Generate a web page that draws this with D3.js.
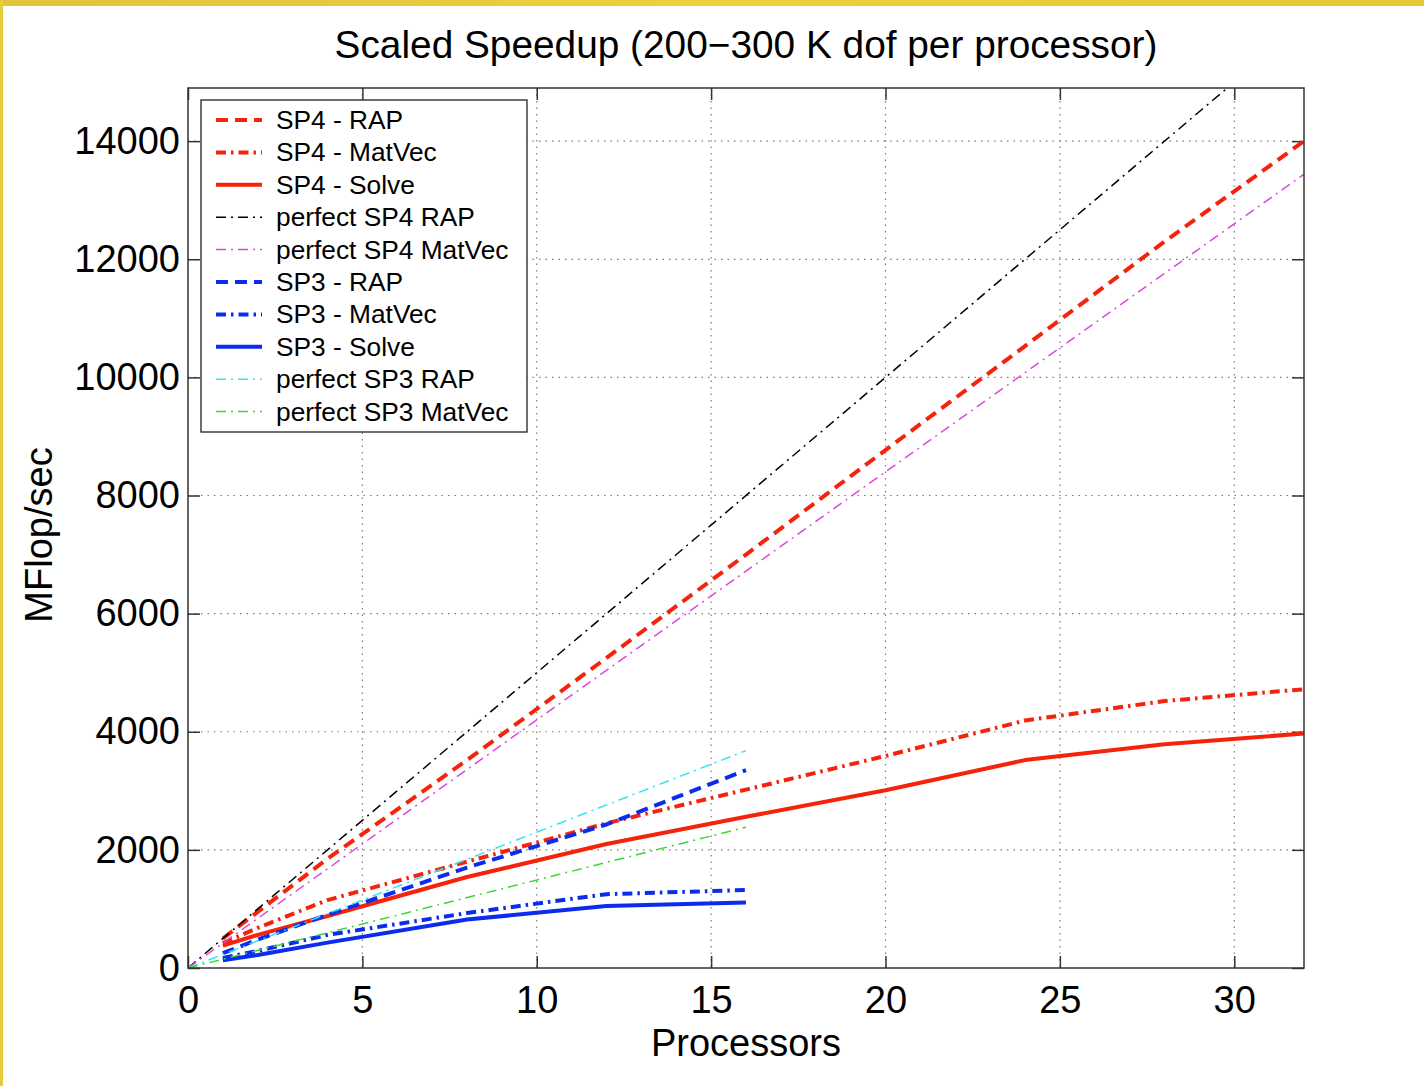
<!DOCTYPE html>
<html>
<head>
<meta charset="utf-8">
<script src="https://cdn.jsdelivr.net/npm/d3@7/dist/d3.min.js"></script>
<style>
  html, body { margin: 0; padding: 0; background: #ffffff; }
  svg { display: block; }
  text { font-family: "Liberation Sans", Arial, Helvetica, sans-serif; fill: #000; }
</style>
</head>
<body>
<svg id="chart" width="1424" height="1086"></svg>
<script>
// Processor counts
const procsSP4 = [1, 2, 4, 8, 12, 16, 20, 24, 28, 32];
const procsSP3 = [1, 2, 4, 8, 12, 16];

// Measured MFlop/sec, SP4
const sp4RAP    = [500, 950, 1850, 3520, 5250, 7000, 8770, 10530, 12300, 14000];
const sp4MatVec = [420, 680, 1150, 1800, 2450, 3020, 3590, 4190, 4520, 4720];
const sp4Solve  = [380, 560, 880, 1540, 2100, 2560, 3010, 3520, 3790, 3970];

// Measured MFlop/sec, SP3
const sp3RAP    = [250, 480, 900, 1700, 2430, 3350];
const sp3MatVec = [170, 290, 560, 930, 1250, 1320];
const sp3Solve  = [130, 220, 430, 820, 1050, 1110];

// Ideal (linear) scaling references
const perfectSP4Procs  = [0, 32];
const perfectSP4RAP    = [0, 16000];
const perfectSP4MatVec = [0, 13440];
const perfectSP3Procs  = [0, 16];
const perfectSP3RAP    = [0, 3680];
const perfectSP3MatVec = [0, 2384];

const xTicks = [0, 5, 10, 15, 20, 25, 30];
const yTicks = [0, 2000, 4000, 6000, 8000, 10000, 12000, 14000];

const RED = "#f5230c", BLUE = "#0b2cee", BLACK = "#000000",
      MAGENTA = "#dc48dc", CYAN = "#30e4ee", GREEN = "#38d838";

const DASH = "12,7", DASHDOT = "10,5,2.5,5", THIN_DASHDOT = "10,5,2,5";

const series = [
  { name: "SP4 - RAP",          x: procsSP4, y: sp4RAP,    color: RED,     width: 4,   dash: DASH },
  { name: "SP4 - MatVec",       x: procsSP4, y: sp4MatVec, color: RED,     width: 4,   dash: DASHDOT },
  { name: "SP4 - Solve",        x: procsSP4, y: sp4Solve,  color: RED,     width: 4,   dash: null },
  { name: "perfect SP4 RAP",    x: perfectSP4Procs, y: perfectSP4RAP,    color: BLACK,   width: 1.5, dash: THIN_DASHDOT },
  { name: "perfect SP4 MatVec", x: perfectSP4Procs, y: perfectSP4MatVec, color: MAGENTA, width: 1.5, dash: THIN_DASHDOT },
  { name: "SP3 - RAP",          x: procsSP3, y: sp3RAP,    color: BLUE,    width: 4,   dash: DASH },
  { name: "SP3 - MatVec",       x: procsSP3, y: sp3MatVec, color: BLUE,    width: 4,   dash: DASHDOT },
  { name: "SP3 - Solve",        x: procsSP3, y: sp3Solve,  color: BLUE,    width: 4,   dash: null },
  { name: "perfect SP3 RAP",    x: perfectSP3Procs, y: perfectSP3RAP,    color: CYAN,  width: 1.5, dash: THIN_DASHDOT },
  { name: "perfect SP3 MatVec", x: perfectSP3Procs, y: perfectSP3MatVec, color: GREEN, width: 1.5, dash: THIN_DASHDOT }
];

const svg = d3.select("#chart");

// Yellow slide frame along the top and left edges
const grad = svg.append("defs").append("linearGradient")
  .attr("id", "frameGrad").attr("x1", 0).attr("x2", 1).attr("y1", 0).attr("y2", 0);
grad.append("stop").attr("offset", "0%").attr("stop-color", "#e2c43a");
grad.append("stop").attr("offset", "50%").attr("stop-color", "#ecd03c");
grad.append("stop").attr("offset", "100%").attr("stop-color", "#e6c836");
svg.append("rect").attr("x", 0).attr("y", 0).attr("width", 1424).attr("height", 6).attr("fill", "url(#frameGrad)");
svg.append("rect").attr("x", 0).attr("y", 0).attr("width", 3).attr("height", 1086).attr("fill", "#e6cc3a");

const L = 188, R = 1304, T = 88, B = 968;
const x = d3.scaleLinear().domain([0, 32]).range([L, R]);
const y = d3.scaleLinear().domain([0, 14900]).range([B, T]);

svg.append("defs").append("clipPath").attr("id", "plotClip")
  .append("rect").attr("x", L).attr("y", T).attr("width", R - L).attr("height", B - T);

// Dotted grid
const grid = svg.append("g").attr("stroke", "#7a7a7a").attr("stroke-width", 1.2)
  .attr("stroke-dasharray", "1.5,5");
grid.selectAll(".gx").data(xTicks.filter(d => d > 0)).join("line")
  .attr("x1", d => x(d)).attr("x2", d => x(d)).attr("y1", T).attr("y2", B);
grid.selectAll(".gy").data(yTicks.filter(d => d > 0)).join("line")
  .attr("y1", d => y(d)).attr("y2", d => y(d)).attr("x1", L).attr("x2", R);

// Axes with inward ticks
const styleAxis = g => {
  g.select(".domain").remove();
  g.selectAll(".tick line").attr("stroke", "#333").attr("stroke-width", 1.5);
  g.selectAll(".tick text").attr("font-size", 38)
    .attr("font-family", '"Liberation Sans", Arial, sans-serif').attr("fill", "#000");
};
svg.append("g").attr("transform", `translate(0,${B})`)
  .call(d3.axisBottom(x).tickValues(xTicks).tickSize(-12).tickPadding(18).tickFormat(d3.format("d")))
  .call(styleAxis);
svg.append("g").attr("transform", `translate(0,${T})`)
  .call(d3.axisTop(x).tickValues(xTicks).tickSize(-12).tickFormat(""))
  .call(styleAxis);
svg.append("g").attr("transform", `translate(${L},0)`)
  .call(d3.axisLeft(y).tickValues(yTicks).tickSize(-12).tickPadding(8).tickFormat(d3.format("d")))
  .call(styleAxis);
svg.append("g").attr("transform", `translate(${R},0)`)
  .call(d3.axisRight(y).tickValues(yTicks).tickSize(-12).tickFormat(""))
  .call(styleAxis);

// Data lines
const line = d3.line().x(d => x(d[0])).y(d => y(d[1]));
const plot = svg.append("g").attr("clip-path", "url(#plotClip)");
series.forEach(s => {
  plot.append("path")
    .datum(s.x.map((p, i) => [p, s.y[i]]))
    .attr("fill", "none")
    .attr("stroke", s.color)
    .attr("stroke-width", s.width)
    .attr("stroke-dasharray", s.dash)
    .attr("stroke-linecap", "butt")
    .attr("stroke-linejoin", "round")
    .attr("d", line);
});

// Plot frame
svg.append("rect").attr("x", L).attr("y", T).attr("width", R - L).attr("height", B - T)
  .attr("fill", "none").attr("stroke", "#333").attr("stroke-width", 1.5);

// Title and axis labels
svg.append("text").attr("x", (L + R) / 2).attr("y", 58).attr("text-anchor", "middle")
  .attr("font-size", 38.8).text("Scaled Speedup (200\u2212300 K dof per processor)");
svg.append("text").attr("x", (L + R) / 2).attr("y", 1056).attr("text-anchor", "middle")
  .attr("font-size", 38).text("Processors");
svg.append("text").attr("transform", `translate(52,${(T + B) / 2 + 7}) rotate(-90)`)
  .attr("text-anchor", "middle").attr("font-size", 38).text("MFlop/sec");

// Legend
const lg = svg.append("g");
lg.append("rect").attr("x", 201).attr("y", 100).attr("width", 326).attr("height", 332)
  .attr("fill", "#fff").attr("stroke", "#222").attr("stroke-width", 1.3);
series.forEach((s, i) => {
  const cy = 120 + i * 32.4;
  lg.append("line").attr("x1", 216).attr("x2", 262).attr("y1", cy).attr("y2", cy)
    .attr("stroke", s.color).attr("stroke-width", s.width)
    .attr("stroke-dasharray", s.dash);
  lg.append("text").attr("x", 276).attr("y", cy + 9).attr("font-size", 26.3).text(s.name);
});
</script>
</body>
</html>
